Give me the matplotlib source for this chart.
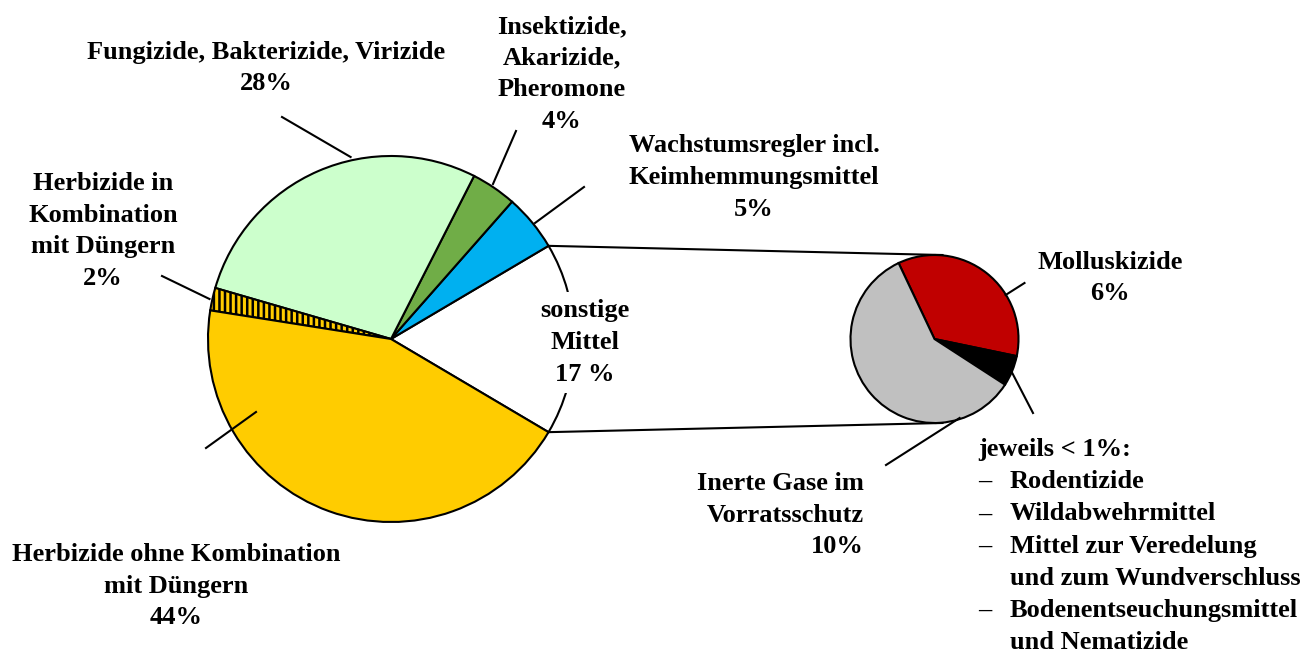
import numpy as np
import matplotlib.pyplot as plt

W, H = 1306, 651   # output size in pixels, axes units = pixels

# main pie, counterclockwise starting with "sonstige Mittel"
main_labels = ["sonstige\nMittel\n17 %",
               "Wachstumsregler incl.\nKeimhemmungsmittel\n5%",
               "Insektizide,\nAkarizide,\nPheromone\n4%",
               "Fungizide, Bakterizide, Virizide\n28%",
               "Herbizide in\nKombination\nmit Düngern\n2%",
               "Herbizide ohne Kombination\nmit Düngern\n44%"]
main_values = [17, 5, 4, 28, 2, 44]
main_colors = ["white", "#00B0F0", "#70AD47", "#CCFFCC", "#FFCC00", "#FFCC00"]

# breakdown of "sonstige Mittel", clockwise
sub_labels = ["Molluskizide\n6%", "jeweils < 1%:", "Inerte Gase im\nVorratsschutz\n10%"]
sub_values = [6, 1, 10]
sub_colors = ["#C00000", "black", "#C0C0C0"]
small_items = ["Rodentizide", "Wildabwehrmittel",
               "Mittel zur Veredelung\nund zum Wundverschluss",
               "Bodenentseuchungsmittel\nund Nematizide"]

plt.rcParams['font.family'] = ['Liberation Serif', 'DejaVu Serif']
plt.rcParams['font.weight'] = 'bold'
plt.rcParams['hatch.linewidth'] = 1.8

FS = 19
LS = 1.48

fig = plt.figure(figsize=(W / 100, H / 100), dpi=100)
ax = fig.add_axes([0, 0, 1, 1])

c1, r1 = (391, H - 339), 183
c2, r2 = (934.5, H - 339), 84

wp = dict(edgecolor="black", linewidth=1.5)
wedges, _ = ax.pie(main_values, colors=main_colors, center=c1, radius=r1,
                   startangle=-main_values[0] / 2 * 3.6, counterclock=True,
                   wedgeprops=wp, frame=True)
wedges[4].set_hatch("|||")

sub_wedges, _ = ax.pie(sub_values, colors=sub_colors, center=c2, radius=r2,
                       startangle=115.3, counterclock=False,
                       wedgeprops=wp, frame=True)

# connector lines from the "sonstige" wedge to the small pie
w0 = wedges[0]
for ang, sy in [(w0.theta2, 1), (w0.theta1, -1)]:
    a = np.deg2rad(ang)
    x0, y0 = c1[0] + r1 * np.cos(a), c1[1] + r1 * np.sin(a)
    ax.plot([x0, c2[0] + 8], [y0, c2[1] + sy * r2], color="black", lw=1.5, zorder=0.5)

# leader lines (image pixel coords: outer end, inner end)
leaders = [((282, 117), (350.6, 157)),
           ((516, 131), (493, 184)),
           ((584, 187), (535, 223)),
           ((162, 276), (209.5, 299)),
           ((206, 448), (256, 412)),
           ((1024.5, 283), (1005.6, 295)),
           ((1033, 413), (1010.7, 370)),
           ((886, 465), (959.6, 418))]
for (xa, ya), (xb, yb) in leaders:
    ax.plot([xa, xb], [H - ya, H - yb], color="black", lw=1.5, zorder=3)

# label positions (image pixel coords)
main_pos = [(585, 342.5, "center"), (754, 177.5, "center"), (562, 74, "center"),
            (266, 68, "center"), (103, 231, "center"), (176, 586, "center")]
for lab, (x, y, ha) in zip(main_labels, main_pos):
    kw = {}
    if lab.startswith("sonstige"):
        kw["bbox"] = dict(facecolor="white", edgecolor="none", pad=5)
    ax.text(x, H - y, lab, ha=ha, va="center", multialignment="center",
            fontsize=FS, linespacing=LS, zorder=4, **kw)

ax.text(1110, H - 278, sub_labels[0], ha="center", va="center",
        fontsize=FS, linespacing=LS)
ax.text(864, H - 515, sub_labels[2], ha="right", va="center",
        multialignment="right", fontsize=FS, linespacing=LS)

# list of the small items (< 1%)
dashes = [sub_labels[1]]
items = [""]
for it in small_items:
    parts = it.split("\n")
    dashes += ["\u2013"] + [""] * (len(parts) - 1)
    items += parts
top = H - 438
ax.text(978, top, "\n".join(dashes), ha="left", va="top", fontsize=FS, linespacing=1.51)
ax.text(1010, top, "\n".join(items), ha="left", va="top", fontsize=FS, linespacing=1.51)

ax.set_xlim(0, W)
ax.set_ylim(0, H)
ax.axis("off")

fig.savefig("out.png", dpi=100)
